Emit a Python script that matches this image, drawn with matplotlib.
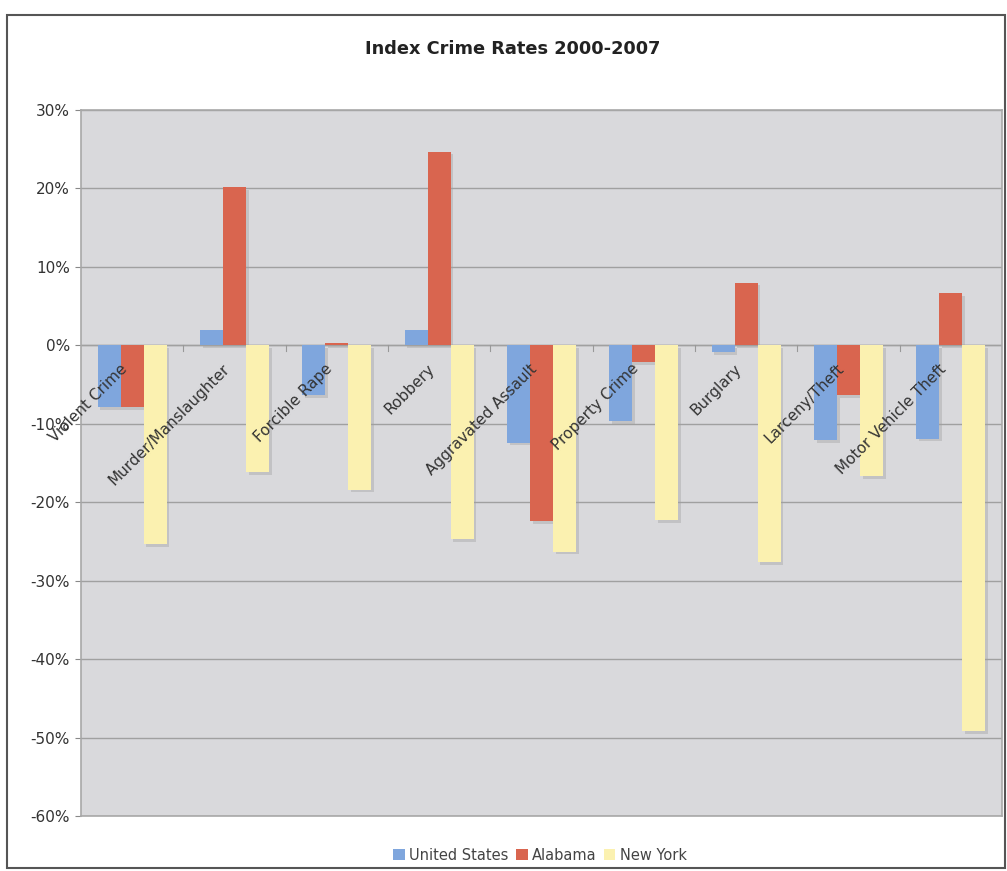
import matplotlib
matplotlib.use("Agg")
import matplotlib.pyplot as plt
import matplotlib.patheffects as pe
from matplotlib.patches import Rectangle, Patch
import numpy as np

categories = ["Violent Crime", "Murder/Manslaughter", "Forcible Rape", "Robbery",
              "Aggravated Assault", "Property Crime", "Burglary", "Larceny/Theft",
              "Motor Vehicle Theft"]
united_states = [-7.9, 1.9, -6.3, 1.9, -12.4, -9.7, -0.9, -12.1, -11.9]
alabama = [-7.9, 20.2, 0.3, 24.7, -22.4, -2.1, 8.0, -6.3, 6.7]
new_york = [-25.3, -16.2, -18.4, -24.7, -26.3, -22.3, -27.6, -16.7, -49.2]
series_names = ["United States", "Alabama", "New York"]
yticks = [30, 20, 10, 0, -10, -20, -30, -40, -50, -60]

colors = ["#7fa6dd", "#d9654f", "#fbf1b0"]

W, H = 1007, 871
fig = plt.figure(figsize=(W / 100, H / 100), dpi=100)
fig.patch.set_facecolor("white")

left, right, top, bottom = 81, 1002, 110, 816
ax = fig.add_axes([left / W, 1 - bottom / H, (right - left) / W, (bottom - top) / H])
ax.set_facecolor("#d9d9dc")

n = len(categories)
x = np.arange(n)
bw = 0.225
shadow = [pe.SimplePatchShadow(offset=(2, -2), shadow_rgbFace="#a0a0a0", alpha=0.4), pe.Normal()]
for i, (vals, c, name) in enumerate(zip([united_states, alabama, new_york], colors, series_names)):
    bars = ax.bar(x + (i - 1) * bw, vals, width=bw, color=c, zorder=3)
    for b in bars:
        b.set_path_effects(shadow)

ax.set_xlim(-0.5, n - 0.5)
ax.set_ylim(-60, 30)
ax.set_yticks(yticks)
ax.set_yticklabels([f"{v}%" for v in yticks], fontsize=11, color="#333333")
ax.yaxis.grid(True, color="#a0a0a0", linewidth=1.0, zorder=1)
ax.tick_params(axis="y", length=4, color="#888888", pad=4)
ax.set_xticks([])
for s in ax.spines.values():
    s.set_color("#a8a8a8")
    s.set_linewidth(1.2)

ax.axhline(0, color="#a0a0a0", linewidth=1.0, zorder=2)
for k in range(1, n):
    ax.plot([k - 0.5, k - 0.5], [0, -0.7], color="#999999", linewidth=0.8, zorder=2)

for k, cat in enumerate(categories):
    ax.text(k - 0.12, -2.0, cat, rotation=45, rotation_mode="anchor",
            ha="right", va="top", fontsize=11, color="#333333", zorder=5)

fig.text(513 / W, 1 - 49 / H, "Index Crime Rates 2000-2007", ha="center", va="center",
         fontsize=12.8, fontweight="bold", color="#222222")

handles = [Patch(facecolor=c, edgecolor="none") for c in colors]
leg = fig.legend(handles, series_names, loc="center", bbox_to_anchor=(540 / W, 1 - 855 / H),
                 ncol=3, frameon=False, fontsize=10.5, handlelength=0.8, handleheight=0.8,
                 handletextpad=0.3, columnspacing=0.5)
for t in leg.get_texts():
    t.set_color("#444444")

fig.patches.append(Rectangle((7 / W, 1 - 868 / H), (1005 - 7) / W, (868 - 15) / H,
                             transform=fig.transFigure, fill=False, edgecolor="#555555",
                             linewidth=1.5))

fig.savefig("out.png", dpi=100)
